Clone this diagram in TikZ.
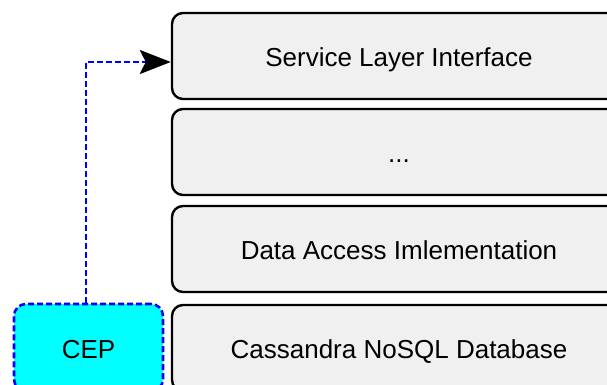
\documentclass[tikz,border=0pt]{standalone}
\usepackage{fontspec}
\setmainfont{Liberation Sans}
\usetikzlibrary{arrows.meta}
\definecolor{layergray}{RGB}{240,240,240}
\definecolor{cepcyan}{RGB}{0,255,255}
\definecolor{flowblue}{RGB}{0,0,255}
\begin{document}
\begin{tikzpicture}[x=1pt,y=-1pt,line join = round,>={Stealth[length=31pt,width=24pt,inset=6pt,color=black]},font=\fontsize{26}{30}\selectfont,
	layer/.style={draw=black,line width=2.4pt,fill=layergray,rounded corners=11pt,minimum width=454pt,minimum height=86pt,inner sep=0pt,text height=21pt,text depth=0pt},
	engine/.style={draw=flowblue,line width=2.6pt,dash pattern=on 6pt off 3pt,fill=cepcyan,rounded corners=12pt,minimum width=149pt,minimum height=87pt,inner sep=0pt,text height=21pt,text depth=0pt},
	flow/.style={draw=flowblue,line width=2.8pt,dash pattern=on 6pt off 3pt}]
						\def\xl{399} \def\xc{88.5}
						\useasboundingbox (0,0) rectangle (607,385);
						\node[layer] (sli) at (\xl,56) {Service Layer Interface};
						\node[layer] (dots) at (\xl,152) {...};
						\node[layer] (dai) at (\xl,249) {Data Access Imlementation};
						\node[layer] (db) at (\xl,348) {Cassandra NoSQL Database};
						\node[engine] (cep) at (\xc,347.5) {CEP};
						\draw[flow,->] ([xshift=-2.5pt]cep.north) |- ([yshift=-6pt]sli.west);
				\end{tikzpicture}
\end{document}
